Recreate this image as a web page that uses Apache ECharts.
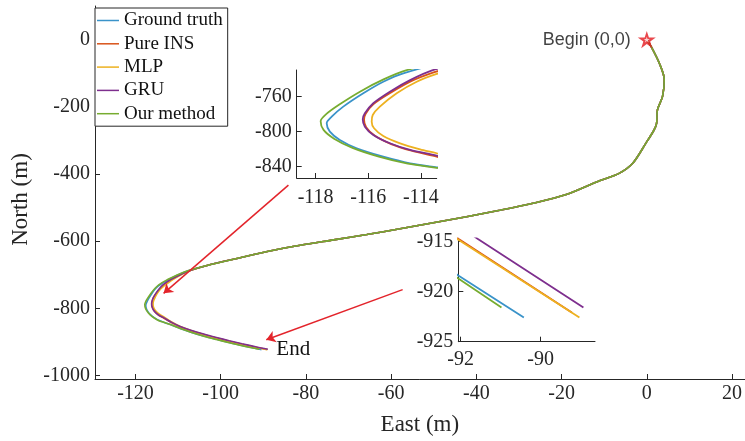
<!DOCTYPE html>
<html>
<head>
<meta charset="utf-8">
<script src="https://cdn.jsdelivr.net/npm/echarts@6/dist/echarts.min.js"></script>
<style>
html, body { margin: 0; padding: 0; background: #fff; }
#chart { width: 745px; height: 441px; }
</style>
</head>
<body>
<div id="chart"></div>
<script>
// Trajectory comparison: East / North positions in metres
const methodNames = ['Ground truth', 'Pure INS', 'MLP', 'GRU', 'Our method'];
const methodColors = ['#3A93C9', '#D95319', '#EDB120', '#7E2F8E', '#77AC30'];

const eastTicks = [-120, -100, -80, -60, -40, -20, 0, 20];
const northTicks = [-1000, -800, -600, -400, -200, 0];
const zoomTurnEastTicks = [-118, -116, -114];
const zoomTurnNorthTicks = [-840, -800, -760];
const zoomEndEastTicks = [-92, -90];
const zoomEndNorthTicks = [-925, -920, -915];

const beginPoint = [[0, 0]];

// Common part of the route, where all estimates coincide
const sharedHead = [
  [0, 0], [1.0, -20], [2.9, -69], [4.1, -119], [3.7, -169], [2.5, -209],
  [2.3, -249], [1.7, -269], [-0.2, -308], [-3.3, -368], [-6.5, -398],
  [-11.1, -420], [-18.9, -461], [-26.7, -487], [-34.5, -508], [-42.3, -527],
  [-50.1, -545], [-57.9, -563], [-65.7, -580], [-73.5, -596], [-81.3, -612],
  [-87.6, -627], [-95.4, -649], [-103.2, -672]
];

const groundTruthTail = [
  [-108.6, -692], [-112.5, -716], [-114.67, -733.3], [-115.43, -742.9],
  [-116.19, -756.1], [-116.95, -771.4], [-117.39, -782.9], [-117.58, -790.4],
  [-117.46, -800], [-117.08, -809.5], [-116.44, -819], [-115.43, -828.6],
  [-114.41, -836.2], [-113.4, -840.8], [-111.5, -849], [-109.5, -859.5],
  [-107, -870.5], [-104, -882], [-101, -892], [-98, -901.5], [-95, -910.5],
  [-92.06, -918.4], [-90.42, -922.6]
];

const pureInsTail = [
  [-108.3, -692], [-111.8, -716], [-113.46, -731.7], [-114.35, -742],
  [-115.15, -755.5], [-115.8, -768.5], [-116.1, -779.5], [-116.16, -786.5],
  [-116.08, -795], [-115.76, -804.5], [-115.13, -814.2], [-114.36, -821.8],
  [-113.4, -828.6], [-111.5, -843], [-109.5, -855], [-107, -866.3],
  [-104, -877.7], [-101, -887.9], [-98, -897.5], [-95, -906.5],
  [-92.04, -914.8], [-89.22, -922.1]
];

const mlpTail = [
  [-108.1, -692], [-111.5, -716], [-113.4, -734], [-114.16, -742.9],
  [-114.92, -756.1], [-115.56, -771.4], [-115.83, -780.9], [-115.87, -788.6],
  [-115.78, -796.1], [-115.43, -804.9], [-114.79, -813.3], [-114.03, -820.2],
  [-113.4, -824.7], [-111.5, -840.5], [-109.5, -854], [-107, -866],
  [-104, -877.6], [-101, -887.9], [-98, -897.6], [-95, -906.7],
  [-92.04, -914.9], [-89.03, -922.6]
];

const gruTail = [
  [-108.2, -692], [-111.7, -714], [-113.55, -729.7], [-114.41, -741.1],
  [-115.18, -754.3], [-115.81, -767.5], [-116.13, -779], [-116.21, -785.9],
  [-116.13, -794.3], [-115.81, -803.8], [-115.18, -813.3], [-114.41, -820.9],
  [-113.4, -827.4], [-111.5, -841.5], [-109.5, -853.5], [-107, -864.8],
  [-104, -876.2], [-101, -886.4], [-98, -896], [-95, -905],
  [-91.56, -914.8], [-88.93, -921.6]
];

const ourMethodTail = [
  [-108.7, -692], [-112.6, -715], [-114.54, -729.7], [-115.4, -740],
  [-116.3, -754], [-117.1, -769], [-117.6, -780], [-117.81, -788],
  [-117.7, -798], [-117.3, -808], [-116.6, -818.5], [-115.6, -828.5],
  [-114.5, -836.5], [-113.4, -841.3], [-111.5, -849.5], [-109.5, -860],
  [-107, -871], [-104, -882.5], [-101, -892.5], [-98, -902], [-95, -911],
  [-92.06, -918.7], [-90.98, -921.6]
];

// Pointer arrows from each magnified view to its region on the main plot
const turnArrow = [[-84.1, -433], [-113.4, -755]];
const endArrow = [[-57.3, -744], [-89.3, -893]];

const tracks = [
  sharedHead.concat(groundTruthTail),
  sharedHead.concat(pureInsTail),
  sharedHead.concat(mlpTail),
  sharedHead.concat(gruTail),
  sharedHead.concat(ourMethodTail)
];

const SERIF = '"Liberation Serif", "Times New Roman", serif';
const INK = '#262626';

function makeAxis(gridIndex, min, max, ticks, extra, labelMargin) {
  return Object.assign({
    type: 'value',
    gridIndex: gridIndex,
    min: min,
    max: max,
    splitLine: { show: false },
    axisLine: { show: true, onZero: false, lineStyle: { color: INK, width: 1 } },
    axisTick: { show: true, inside: true, length: 5, customValues: ticks, lineStyle: { color: INK } },
    axisLabel: {
      customValues: ticks, color: INK, fontFamily: SERIF, fontSize: 20,
      margin: labelMargin || 5,
      formatter: function (v) { return String(v); },
      showMinLabel: true, showMaxLabel: true
    }
  }, extra || {});
}

const starPath = 'path://M0,-10 L2.245,-3.09 L9.51,-3.09 L3.633,1.18 L5.88,8.09 L0,3.82 L-5.88,8.09 L-3.633,1.18 L-9.51,-3.09 L-2.245,-3.09 Z';

const series = [];
[0, 1, 2].forEach(function (g) {
  tracks.forEach(function (track, i) {
    const s = {
      type: 'line',
      name: methodNames[i],
      xAxisIndex: g,
      yAxisIndex: g,
      data: track,
      showSymbol: false,
      symbol: 'none',
      smooth: g === 2 ? false : 0.3,
      clip: true,
      silent: true,
      lineStyle: { color: methodColors[i], width: g === 0 ? 1.6 : 1.8 },
      itemStyle: { color: methodColors[i] },
      z: 2 + i * 0.01
    };
    if (g === 0 && i === 3) {
      s.markPoint = {
        silent: true,
        symbol: 'circle',
        symbolSize: 1,
        itemStyle: { color: 'rgba(0,0,0,0)' },
        data: [{ coord: track[track.length - 1] }],
        label: {
          show: true, formatter: 'End', position: 'right', distance: 8,
          color: '#111', fontFamily: SERIF, fontSize: 21
        }
      };
    }
    if (g === 0 && i === 0) {
      s.markLine = {
        silent: true,
        symbol: ['none', 'arrow'],
        symbolSize: 9,
        label: { show: false },
        lineStyle: { color: '#E3242B', width: 1.5, type: 'solid' },
        itemStyle: { color: '#E3242B' },
        data: [
          [{ coord: turnArrow[0] }, { coord: turnArrow[1] }],
          [{ coord: endArrow[0] }, { coord: endArrow[1] }]
        ]
      };
    }
    series.push(s);
  });
});

// Start marker: red star with a small white centre
series.push({
  type: 'scatter',
  xAxisIndex: 0,
  yAxisIndex: 0,
  data: beginPoint,
  symbol: starPath,
  symbolKeepAspect: true,
  symbolSize: 18,
  silent: true,
  z: 5,
  itemStyle: { color: '#E3191F' },
  label: {
    show: true, position: 'left', distance: 7,
    formatter: 'Begin (0,0)',
    color: '#111', fontFamily: '"Liberation Sans", Arial, sans-serif', fontSize: 18
  }
});
series.push({
  type: 'scatter',
  xAxisIndex: 0,
  yAxisIndex: 0,
  data: beginPoint,
  symbol: starPath,
  symbolKeepAspect: true,
  symbolSize: 6,
  silent: true,
  z: 6,
  itemStyle: { color: '#ffffff' }
});

const option = {
  animation: false,
  backgroundColor: '#ffffff',
  grid: [
    { left: 95, right: 0, top: 6, bottom: 62 },
    { left: 296.7, top: 70, width: 140, height: 108 },
    { left: 458.3, top: 238.3, width: 136.7, height: 103.4 }
  ],
  legend: {
    data: methodNames,
    orient: 'vertical',
    left: 95,
    top: 8,
    icon: 'rect',
    itemWidth: 22,
    itemHeight: 1.5,
    itemGap: 4.3,
    padding: [3, 5, 3, 2],
    backgroundColor: '#ffffff',
    borderColor: INK,
    borderWidth: 1,
    selectedMode: false,
    textStyle: { fontFamily: SERIF, fontSize: 19, color: '#111' }
  },
  xAxis: [
    makeAxis(0, -129.5, 23, eastTicks, {
      name: 'East (m)', nameLocation: 'middle', nameGap: 34,
      nameTextStyle: { fontFamily: SERIF, fontSize: 23, color: INK }
    }),
    makeAxis(1, -118.72, -113.4, zoomTurnEastTicks, null, 10),
    makeAxis(2, -92.06, -88.64, zoomEndEastTicks, null, 8)
  ],
  yAxis: [
    makeAxis(0, -1010, 100, northTicks, {
      name: 'North (m)', nameLocation: 'middle', nameGap: 58,
      nameTextStyle: { fontFamily: SERIF, fontSize: 23, color: INK, padding: [0, 14, 0, 0] }
    }),
    makeAxis(1, -853, -729.5, zoomTurnNorthTicks),
    makeAxis(2, -925, -914.7, zoomEndNorthTicks)
  ],
  series: series
};

const chart = echarts.init(document.getElementById('chart'), null, { renderer: 'canvas' });
chart.setOption(option);
</script>
</body>
</html>
